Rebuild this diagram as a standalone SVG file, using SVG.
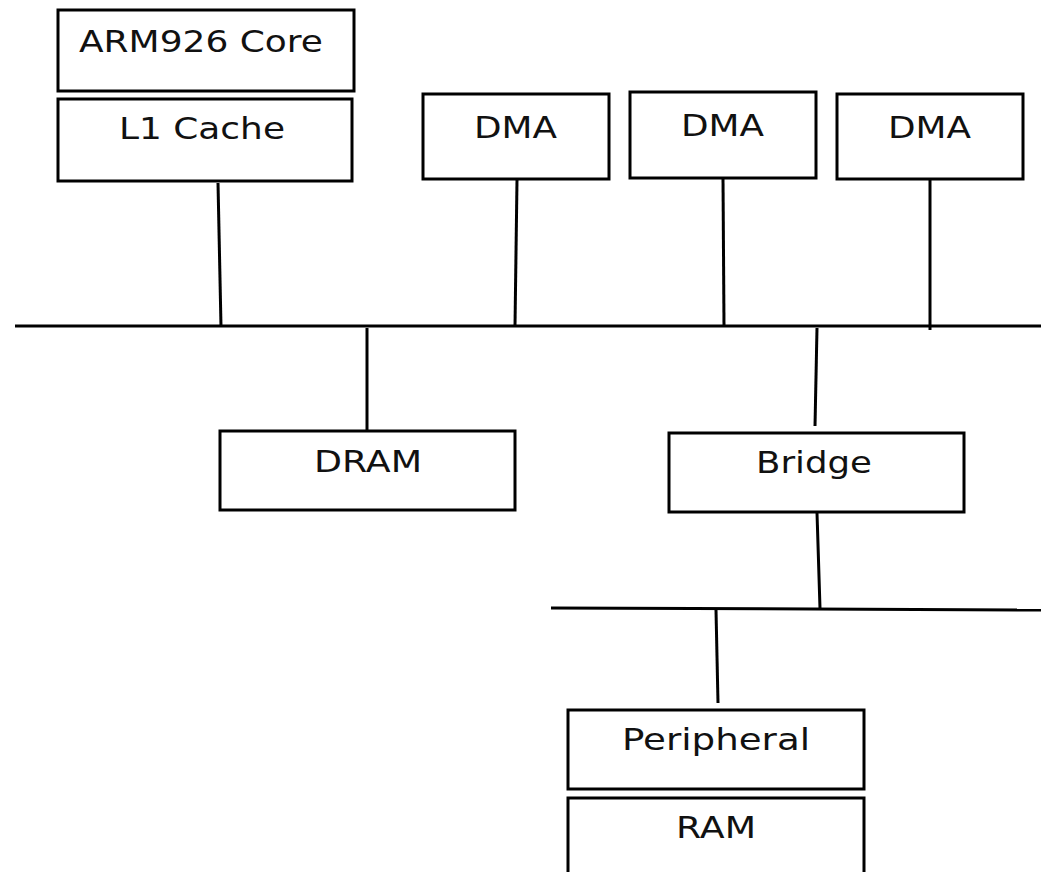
<svg xmlns="http://www.w3.org/2000/svg" width="1041" height="872" viewBox="0 0 1041 872">
<style>
.box{fill:#fff;stroke:#000;stroke-width:3}
.lbl{font-family:"DejaVu Sans",sans-serif;font-size:31px;fill:#111}
.wire{stroke:#000;stroke-width:3;fill:none}
</style>
<rect width="1041" height="872" fill="#fff"/>
<g id="connectors">
<line class="wire" x1="15" y1="326" x2="1041" y2="326"/>
<line class="wire" x1="218" y1="183" x2="221" y2="326"/>
<line class="wire" x1="517" y1="180" x2="515" y2="326"/>
<line class="wire" x1="723" y1="178" x2="724" y2="326"/>
<line class="wire" x1="930" y1="180" x2="930" y2="330"/>
<line class="wire" x1="367" y1="328" x2="367" y2="430"/>
<line class="wire" x1="817" y1="328" x2="815" y2="426"/>
<line class="wire" x1="817" y1="513" x2="820" y2="608"/>
<line class="wire" x1="551" y1="608" x2="1041" y2="610"/>
<line class="wire" x1="716" y1="610" x2="718" y2="703"/>
</g>
<g id="arm926">
<rect class="box" x="58" y="10" width="296" height="81"/>
<text class="lbl" x="79" y="52" textLength="244" lengthAdjust="spacingAndGlyphs">ARM926 Core</text>
</g>
<g id="l1cache">
<rect class="box" x="58" y="99" width="294" height="82"/>
<text class="lbl" x="119" y="139" textLength="166" lengthAdjust="spacingAndGlyphs">L1 Cache</text>
</g>
<g id="dma1">
<rect class="box" x="423" y="94" width="186" height="85"/>
<text class="lbl" x="474" y="138" textLength="83" lengthAdjust="spacingAndGlyphs">DMA</text>
</g>
<g id="dma2">
<rect class="box" x="630" y="92" width="186" height="86"/>
<text class="lbl" x="681" y="136" textLength="83" lengthAdjust="spacingAndGlyphs">DMA</text>
</g>
<g id="dma3">
<rect class="box" x="837" y="94" width="186" height="85"/>
<text class="lbl" x="888" y="138" textLength="83" lengthAdjust="spacingAndGlyphs">DMA</text>
</g>
<g id="dram">
<rect class="box" x="220" y="431" width="295" height="79"/>
<text class="lbl" x="314" y="472" textLength="108" lengthAdjust="spacingAndGlyphs">DRAM</text>
</g>
<g id="bridge">
<rect class="box" x="669" y="433" width="295" height="79"/>
<text class="lbl" x="756" y="473" textLength="116" lengthAdjust="spacingAndGlyphs">Bridge</text>
</g>
<g id="peripheral">
<rect class="box" x="568" y="710" width="296" height="79"/>
<text class="lbl" x="622" y="750" textLength="188" lengthAdjust="spacingAndGlyphs">Peripheral</text>
</g>
<g id="ram">
<path class="box" d="M568,880 V798 H864 V880"/>
<text class="lbl" x="676" y="838" textLength="80" lengthAdjust="spacingAndGlyphs">RAM</text>
</g>
</svg>
